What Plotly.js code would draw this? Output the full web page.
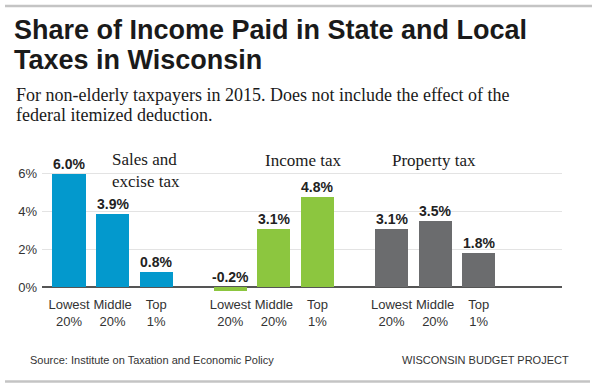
<!DOCTYPE html>
<html>
<head>
<meta charset="utf-8">
<script src="https://cdn.plot.ly/plotly-3.0.1.min.js"></script>
<style>html,body{margin:0;padding:0;background:#fff;}#chart{width:600px;height:385px;}</style>
</head>
<body>
<div id="chart"></div>
<script>
// ---- Data ----
const groups = ["Sales and<br>excise tax", "Income tax", "Property tax"];
const brackets = ["Lowest<br>20%", "Middle<br>20%", "Top<br>1%"];
const salesExcise = [6.0, 3.9, 0.8];
const incomeTax = [-0.2, 3.1, 4.8];
const propertyTax = [3.1, 3.5, 1.8];
const yTicks = [0, 2, 4, 6];
const titleLines = ["Share of Income Paid in State and Local", "Taxes in Wisconsin"];
const subtitleLines = ["For non-elderly taxpayers in 2015. Does not include the effect of the", "federal itemized deduction."];
const sourceText = "Source: Institute on Taxation and Economic Policy";
const creditText = "WISCONSIN BUDGET PROJECT";

// ---- Layout helpers ----
const seriesValues = [salesExcise, incomeTax, propertyTax];
const colors = ["#0399cd", "#8cc63f", "#6b6c6e"];
const groupStep = 3.7;
const W = 600, H = 385, mL = 42, mR = 38, mT = 155, mB = 90;
const pw = W - mL - mR, ph = H - mT - mB;
const px2x = px => (px - mL) / pw;
const py2y = py => (H - mB - py) / ph;

const traces = [];
const annotations = [];
const tickvals = [], ticktext = [];
seriesValues.forEach((vals, g) => {
  const xs = vals.map((v, i) => g * groupStep + i);
  traces.push({
    type: "bar", x: xs, y: vals, width: 0.76,
    marker: {color: colors[g]}, hoverinfo: "skip", showlegend: false
  });
  vals.forEach((v, i) => {
    tickvals.push(xs[i]); ticktext.push(brackets[i]);
    annotations.push({
      x: xs[i], y: Math.max(v, 0), xref: "x", yref: "y",
      text: v.toFixed(1) + "%", showarrow: false, yanchor: "bottom", yshift: 0,
      font: {family: "Liberation Sans, Arial, sans-serif", size: 14, color: "#222", weight: "bold"}
    });
  });
});

const serif = {family: "Liberation Serif, Times New Roman, serif", size: 17, color: "#1a1a1a"};
const serifSub = {family: "Liberation Serif, Times New Roman, serif", size: 18, color: "#1a1a1a"};
const titleFont = {family: "Liberation Sans, Arial, sans-serif", size: 27, color: "#1a1a1a", weight: "bold"};
// title lines
[30, 60].forEach((py, k) => annotations.push({xref: "paper", yref: "paper", x: px2x(12), y: py2y(py),
  xanchor: "left", yanchor: "middle", text: titleLines[k], showarrow: false, font: titleFont}));
// subtitle lines
[95, 115].forEach((py, k) => annotations.push({xref: "paper", yref: "paper", x: px2x(14), y: py2y(py),
  xanchor: "left", yanchor: "middle", text: subtitleLines[k], showarrow: false, font: serifSub}));
// group labels
annotations.push({xref: "paper", yref: "paper", x: px2x(110), y: py2y(170), xanchor: "left", yanchor: "middle",
  align: "left", text: groups[0], showarrow: false, font: serif});
annotations.push({xref: "paper", yref: "paper", x: px2x(302.5), y: py2y(160), xanchor: "center", yanchor: "middle",
  text: groups[1], showarrow: false, font: serif});
annotations.push({xref: "paper", yref: "paper", x: px2x(434), y: py2y(160), xanchor: "center", yanchor: "middle",
  text: groups[2], showarrow: false, font: serif});
// footer
const small = {family: "Liberation Sans, Arial, sans-serif", size: 11, color: "#333"};
annotations.push({xref: "paper", yref: "paper", x: px2x(28), y: py2y(359.5), xanchor: "left", yanchor: "middle",
  text: sourceText, showarrow: false, font: small});
annotations.push({xref: "paper", yref: "paper", x: px2x(571), y: py2y(359.5), xanchor: "right", yanchor: "middle",
  text: creditText, showarrow: false, font: small});

const layout = {
  width: W, height: H,
  margin: {l: mL, r: mR, t: mT, b: mB},
  paper_bgcolor: "#fff", plot_bgcolor: "#fff",
  xaxis: {
    range: [-0.62, 11.31], tickvals: tickvals, ticktext: ticktext, tickangle: 0,
    showgrid: false, zeroline: false, showline: false, ticks: "",
    tickfont: {family: "Liberation Sans, Arial, sans-serif", size: 13, color: "#333"},
    fixedrange: true
  },
  yaxis: {
    range: [-0.4, 7.0], tickvals: yTicks, ticktext: yTicks.map(v => v + "%"),
    showgrid: true, gridcolor: "#e3e3e3", gridwidth: 1,
    zeroline: true, zerolinecolor: "#555", zerolinewidth: 2,
    showline: false, ticks: "", ticklabelstandoff: 4,
    tickfont: {family: "Liberation Sans, Arial, sans-serif", size: 13, color: "#333"},
    fixedrange: true
  },
  annotations: annotations,
  shapes: [
    {type: "line", xref: "paper", yref: "paper", x0: px2x(5), x1: px2x(592), y0: py2y(6), y1: py2y(6),
     line: {color: "#c4c4c4", width: 2.5}},
    {type: "line", xref: "paper", yref: "paper", x0: px2x(5), x1: px2x(590), y0: py2y(381.5), y1: py2y(381.5),
     line: {color: "#c4c4c4", width: 2.5}}
  ],
  bargap: 0
};

Plotly.newPlot("chart", traces, layout, {displayModeBar: false, staticPlot: true});
</script>
</body>
</html>
